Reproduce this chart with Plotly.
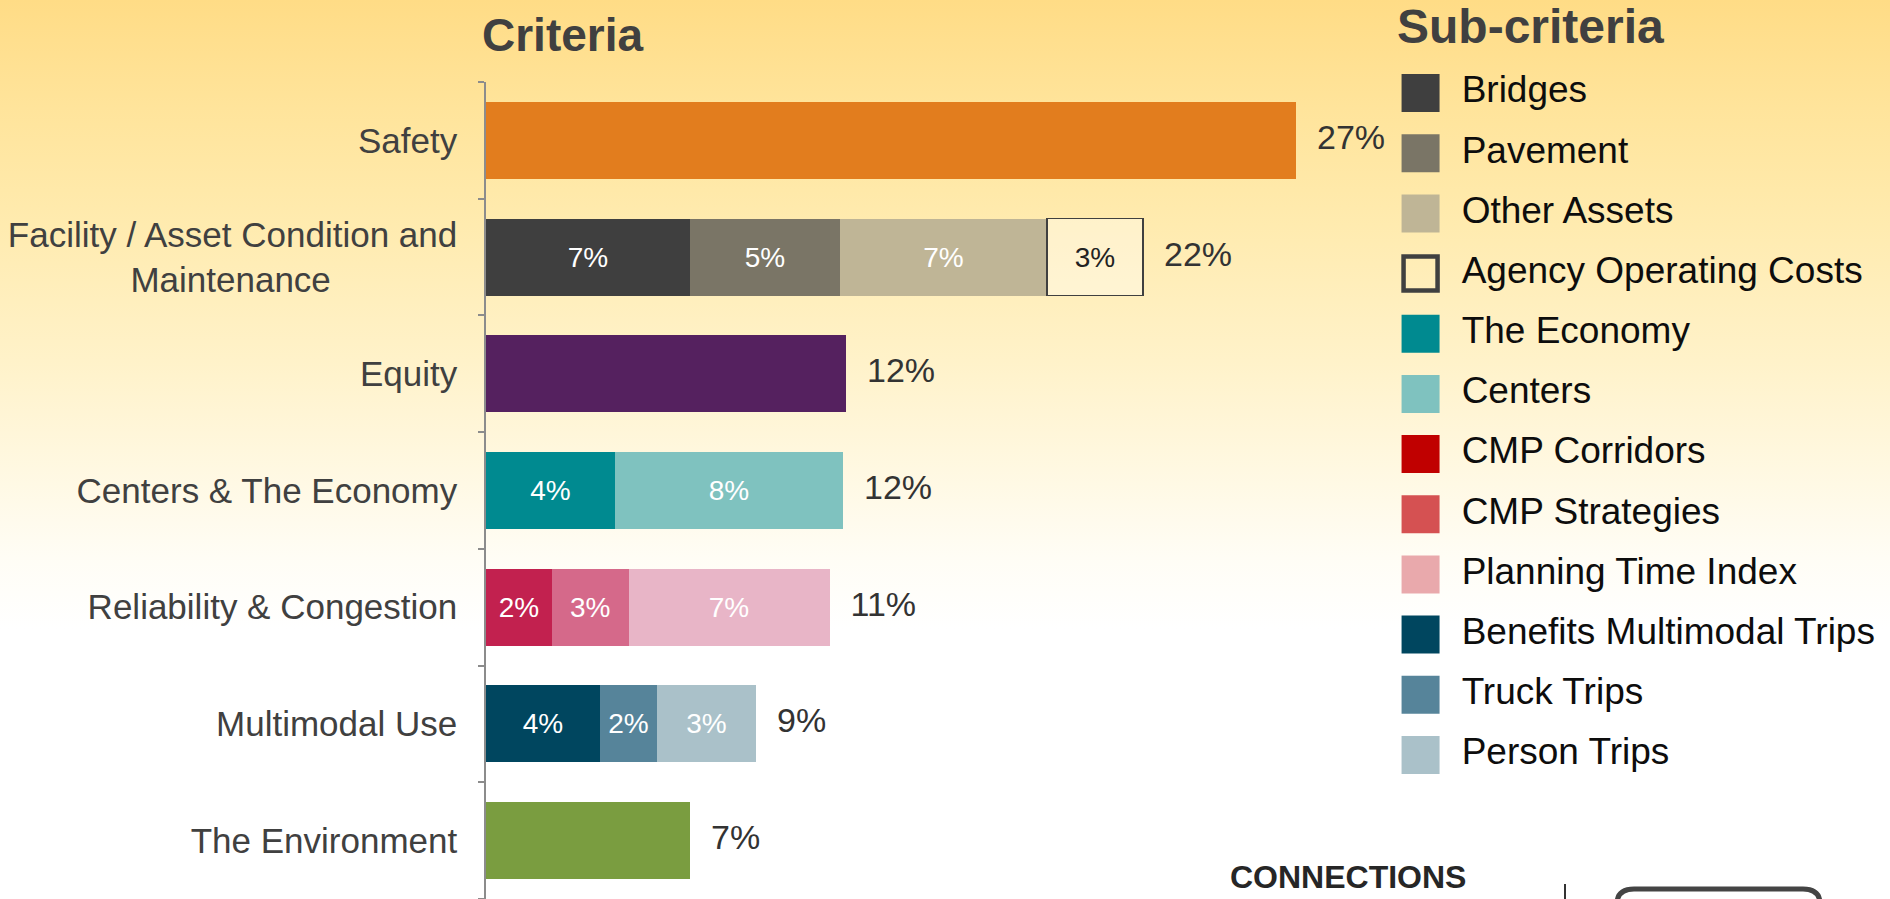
import plotly.graph_objects as go

W, H = 1890, 899
FONT = "Liberation Sans, Arial, sans-serif"

# ---------------- data ----------------
criteria = ["Safety", "Facility / Asset Condition and Maintenance", "Equity",
            "Centers & The Economy", "Reliability & Congestion",
            "Multimodal Use", "The Environment"]
criteria_ticktext = ["Safety",
                     "Facility / Asset Condition and<br>Maintenance" + "\u00a0" * 13,
                     "Equity", "Centers & The Economy", "Reliability & Congestion",
                     "Multimodal Use", "The Environment"]

single_criteria = ["Safety", "Equity", "The Environment"]
single_values = [27.0, 12.0, 6.8]
single_colors = ["#E27D1E", "#55215F", "#7A9D40"]

sub_names = ["Bridges", "Pavement", "Other Assets", "Agency Operating Costs",
             "The Economy", "Centers", "CMP Corridors", "CMP Strategies",
             "Planning Time Index", "Benefits Multimodal Trips", "Truck Trips",
             "Person Trips"]
sub_parent = ["Facility / Asset Condition and Maintenance"] * 4 + \
             ["Centers & The Economy"] * 2 + \
             ["Reliability & Congestion"] * 3 + \
             ["Multimodal Use"] * 3
sub_values = [6.8, 5.0, 6.9, 3.2, 4.3, 7.6, 2.2, 2.55, 6.7, 3.8, 1.9, 3.3]
bar_colors = ["#3F3F3F", "#7A7566", "#BFB596", "rgba(255,255,255,0.35)",
              "#008A90", "#7FC2BF", "#C2214F", "#D5698A", "#E8B5C7",
              "#00465F", "#56849A", "#AAC1C9"]
legend_colors = ["#3F3F3F", "#7A7566", "#BFB596", "rgba(0,0,0,0)",
                 "#008A90", "#7FC2BF", "#C00000", "#D55152", "#E9A9AC",
                 "#00465F", "#56849A", "#AAC1C9"]
open_items = ["Agency Operating Costs"]

# ---------------- figure ----------------
fig = go.Figure()

# background gradient (full-paper helper axes x/y)
fig.add_trace(go.Scatter(
    x=[0, 1, 1, 0, 0], y=[0, 0, 1, 1, 0], mode="lines", fill="toself",
    line=dict(width=0),
    fillgradient=dict(type="vertical", start=0, stop=1,
                      colorscale=[[0.0, "#FFFFFF"], [0.30, "#FFFFFF"],
                                  [0.38, "#FFFDF5"], [0.48, "#FFF8E1"],
                                  [0.60, "#FFF2C9"], [0.75, "#FFEBAF"],
                                  [0.88, "#FFE49B"], [1.0, "#FFDC86"]]),
    hoverinfo="skip", showlegend=False, xaxis="x", yaxis="y"))

# single-segment criteria
for name, val, col in zip(single_criteria, single_values, single_colors):
    fig.add_trace(go.Bar(
        x=[val], y=[name], orientation="h", name=name,
        marker=dict(color=col, line=dict(width=0)),
        textposition="none", showlegend=False, xaxis="x2", yaxis="y2"))

# sub-criteria segments
for name, parent, val, col in zip(sub_names, sub_parent, sub_values, bar_colors):
    is_open = name in open_items
    fig.add_trace(go.Bar(
        x=[val], y=[parent], orientation="h", name=name,
        marker=dict(color=col,
                    line=dict(color="#404040" if is_open else "rgba(0,0,0,0)",
                              width=1.5 if is_open else 0)),
        text=[f"{round(val)}%"], textposition="inside",
        insidetextanchor="middle", textangle=0,
        textfont=dict(family=FONT, size=28,
                      color="#222222" if is_open else "#FFFFFF"),
        showlegend=False, xaxis="x2", yaxis="y2"))

# totals
totals = []
for c in criteria:
    t = sum(v for n, v in zip(single_criteria, single_values) if n == c)
    t += sum(v for p, v in zip(sub_parent, sub_values) if p == c)
    totals.append(t)
label_gap = 0.7
fig.add_trace(go.Scatter(
    x=[t + label_gap for t in totals], y=criteria, mode="text",
    text=[f"{round(t)}%" for t in totals], textposition="middle right",
    textfont=dict(family=FONT, size=34, color="#333333"),
    cliponaxis=False, hoverinfo="skip", showlegend=False,
    xaxis="x2", yaxis="y2"))

# custom legend (Sub-criteria)
idx = list(range(len(sub_names)))
fig.add_trace(go.Scatter(
    x=[0] * len(sub_names), y=idx, mode="markers",
    marker=dict(symbol="square", opacity=1,
                size=[34 if n in open_items else 38 for n in sub_names],
                color=legend_colors,
                line=dict(color="#404040",
                          width=[4.5 if n in open_items else 0 for n in sub_names])),
    cliponaxis=False, hoverinfo="skip", showlegend=False,
    xaxis="x3", yaxis="y3"))
fig.add_trace(go.Scatter(
    x=[1.05] * len(sub_names), y=idx, mode="text", text=sub_names,
    textposition="middle right",
    textfont=dict(family=FONT, size=37, color="#0D0D0D"),
    cliponaxis=False, hoverinfo="skip", showlegend=False,
    xaxis="x3", yaxis="y3"))

axis_off = dict(visible=False, showgrid=False, zeroline=False, fixedrange=True)

fig.update_layout(
    width=W, height=H,
    margin=dict(l=0, r=0, t=0, b=0),
    paper_bgcolor="#FFFFFF", plot_bgcolor="rgba(0,0,0,0)",
    barmode="stack", bargap=0.34, showlegend=False,
    font=dict(family=FONT, color="#404040"),
    xaxis=dict(domain=[0, 1], range=[0, 1], anchor="y", **axis_off),
    yaxis=dict(domain=[0, 1], range=[0, 1], anchor="x", **axis_off),
    xaxis2=dict(domain=[486 / W, 1386 / W], range=[0, 30], anchor="y2", **axis_off),
    yaxis2=dict(domain=[0, 1 - 82 / H], anchor="x2", type="category",
                categoryorder="array", categoryarray=criteria,
                tickvals=criteria, ticktext=criteria_ticktext,
                range=[6.5, -0.5], showline=True, linecolor="#8C8C8C",
                linewidth=1.5, ticks="outside", tickson="boundaries",
                ticklen=6, tickwidth=1.5, tickcolor="#8C8C8C",
                tickfont=dict(family=FONT, size=35, color="#404040"),
                ticklabelstandoff=20, showgrid=False, zeroline=False,
                fixedrange=True),
    xaxis3=dict(domain=[1401 / W, 1], range=[-0.5, 12], anchor="y3", **axis_off),
    yaxis3=dict(domain=[1 - 785 / H, 1 - 63 / H], range=[11.5, -0.5],
                anchor="x3", **axis_off),
    annotations=[
        dict(text="<b>Criteria</b>", xref="paper", yref="paper",
             x=480 / W, y=1 - 35 / H, xanchor="left", yanchor="middle",
             showarrow=False, font=dict(family=FONT, size=46, color="#404040")),
        dict(text="<b>Sub-criteria</b>", xref="paper", yref="paper",
             x=1395 / W, y=1 - 26 / H, xanchor="left", yanchor="middle",
             showarrow=False, font=dict(family=FONT, size=48, color="#404040")),
        dict(text="<b>CONNECTIONS</b>", xref="paper", yref="paper",
             x=1228 / W, y=0.002, xanchor="left", yanchor="bottom",
             showarrow=False, font=dict(family=FONT, size=32, color="#262626")),
    ],
    shapes=[
        dict(type="line", xref="paper", yref="paper",
             x0=1565 / W, x1=1565 / W, y0=1 - 884 / H, y1=0,
             line=dict(color="#333333", width=2)),
        dict(type="path", xref="paper", yref="paper",
             path=(f"M {1617/W},{1-930/H} L {1617/W},{1-904/H} "
                   f"Q {1617/W},{1-889/H} {1634/W},{1-889/H} "
                   f"L {1803/W},{1-889/H} Q {1820/W},{1-889/H} {1820/W},{1-904/H} "
                   f"L {1820/W},{1-930/H}"),
             line=dict(color="#444444", width=5)),
    ],
)

fig.write_html("out.html", config={"displayModeBar": False},
               post_script="document.body.style.margin='0';document.body.style.overflow='hidden';")
